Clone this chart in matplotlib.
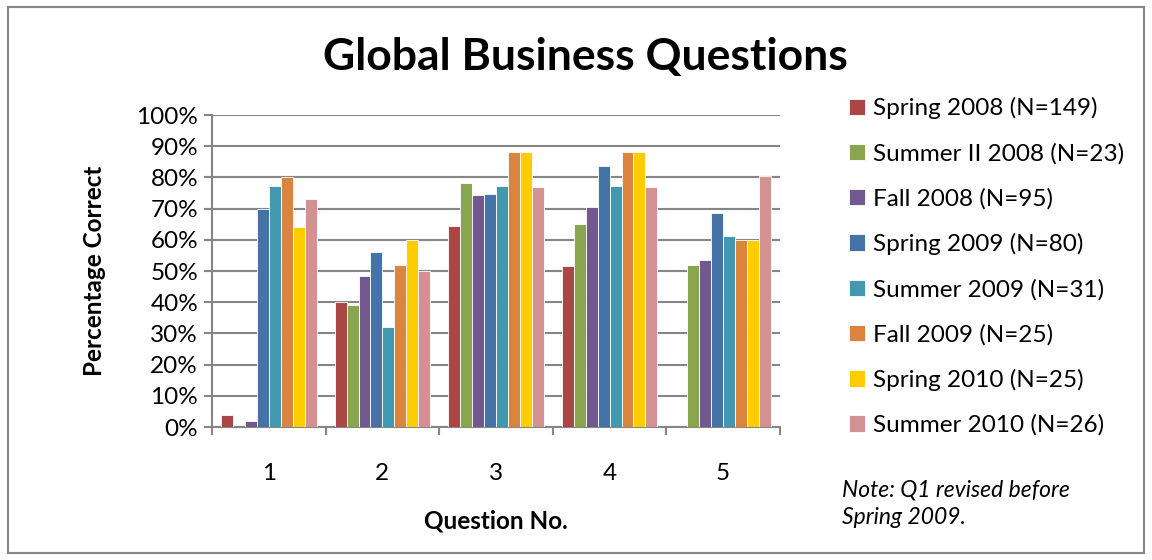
import numpy as np
import matplotlib
matplotlib.use('Agg')
import matplotlib.pyplot as plt
from matplotlib.patches import Rectangle

# Datos
preguntas = ['1', '2', '3', '4', '5']
series = ['Spring 2008 (N=149)', 'Summer II 2008 (N=23)', 'Fall 2008 (N=95)',
          'Spring 2009 (N=80)', 'Summer 2009 (N=31)', 'Fall 2009 (N=25)',
          'Spring 2010 (N=25)', 'Summer 2010 (N=26)']
spring_2008 = [4, 40, 64.3, 51.6, np.nan]
summer2_2008 = [np.nan, 39, 78.2, 65.2, 52]
fall_2008 = [2, 48.3, 74.5, 70.4, 53.5]
spring_2009 = [70, 56, 74.8, 83.7, 68.6]
summer_2009 = [77.2, 32, 77.2, 77.2, 61.1]
fall_2009 = [80, 51.8, 88, 88, 60]
spring_2010 = [64, 60, 88, 88, 60]
summer_2010 = [73, 50, 76.8, 76.8, 80.6]
valores = [spring_2008, summer2_2008, fall_2008, spring_2009,
           summer_2009, fall_2009, spring_2010, summer_2010]
colores = ['#AA4643', '#89A54E', '#71588F', '#4572A7',
           '#4198AF', '#DB843D', '#FFCC00', '#D39191']

plt.rcParams['font.family'] = ['Lato', 'DejaVu Sans']

fig = plt.figure(figsize=(11.52, 5.6), dpi=100)
ax = fig.add_axes([212/1152, 1-427/560, 568/1152, 312/560])

x = np.arange(len(preguntas))
ancho = 0.105
for i, (nombre, vals, col) in enumerate(zip(series, valores, colores)):
    pos = x - 4*ancho + ancho/2 + i*ancho
    ax.bar(pos, vals, width=ancho, color=col, edgecolor='white',
           linewidth=0.6, label=nombre, zorder=3)

ax.set_xlim(-0.5, 4.5)
ax.set_ylim(0, 100)
ax.set_yticks(np.arange(0, 101, 10))
ax.set_yticklabels([f'{v}%' for v in range(0, 101, 10)], fontsize=17.5)
ax.set_xticks(x)
ax.set_xticklabels(preguntas, fontsize=17.5)
ax.set_xticks(np.arange(-0.5, 4.6, 1), minor=True)
ax.tick_params(axis='x', which='major', length=0, pad=26)
ax.tick_params(axis='x', which='minor', length=6, width=1.5, color='#868686')
ax.tick_params(axis='y', length=6, width=1.5, color='#868686', pad=4)
ax.yaxis.grid(True, color='#868686', linewidth=1.5, zorder=0)
for s in ['top', 'right']:
    ax.spines[s].set_visible(False)
for s in ['left', 'bottom']:
    ax.spines[s].set_color('#868686')
    ax.spines[s].set_linewidth(1.5)

ax.set_ylabel('Percentage Correct', fontsize=17.5, fontweight='bold', labelpad=22)
ax.set_xlabel('Question No.', fontsize=17.5, fontweight='bold', labelpad=18)

fig.text(0.508, 1-57/560, 'Global Business Questions', fontsize=32,
         fontweight='bold', ha='center', va='center')

leg = ax.legend(loc='upper left', bbox_to_anchor=(837/1152, 1-85/560),
                bbox_transform=fig.transFigure, frameon=False, fontsize=17.5,
                handlelength=0.65, handleheight=0.65, handletextpad=0.35,
                labelspacing=0.97, borderpad=0)

fig.text(842/1152, 1-490/560, 'Note: Q1 revised before', fontsize=16.5,
         style='italic', va='center')
fig.text(842/1152, 1-517/560, 'Spring 2009.', fontsize=16.5,
         style='italic', va='center')

# borde exterior
fig.patches.append(Rectangle((8/1152, 7/560), 1136/1152, 546/560,
                             transform=fig.transFigure, fill=False,
                             edgecolor='#868686', linewidth=1.5))

fig.savefig('out.png', dpi=100)
